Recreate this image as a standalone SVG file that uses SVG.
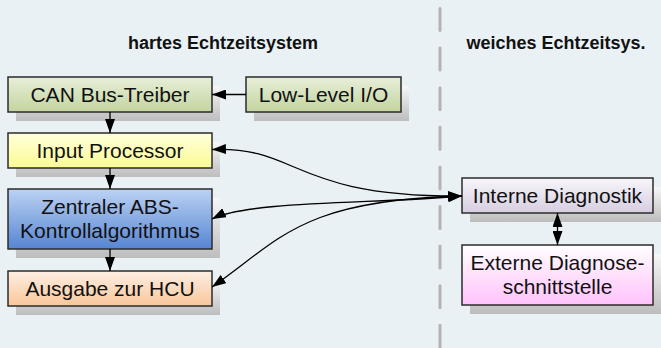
<svg xmlns="http://www.w3.org/2000/svg" width="661" height="348" viewBox="0 0 661 348">
<defs>
<linearGradient id="gSh" x1="0" y1="0" x2="0" y2="1"><stop offset="0" stop-color="#f7f7f7"/><stop offset="1" stop-color="#bdbdbd"/></linearGradient>
<linearGradient id="gGreen" x1="0" y1="0" x2="0" y2="1"><stop offset="0" stop-color="#e8efda"/><stop offset="1" stop-color="#c2d49f"/></linearGradient>
<linearGradient id="gYellow" x1="0" y1="0" x2="0" y2="1"><stop offset="0" stop-color="#ffffdc"/><stop offset="1" stop-color="#fbfb94"/></linearGradient>
<linearGradient id="gBlue" x1="0" y1="0" x2="0" y2="1"><stop offset="0" stop-color="#bcd2f3"/><stop offset="1" stop-color="#5685d3"/></linearGradient>
<linearGradient id="gPeach" x1="0" y1="0" x2="0" y2="1"><stop offset="0" stop-color="#fdefe3"/><stop offset="1" stop-color="#f9c69a"/></linearGradient>
<linearGradient id="gLav" x1="0" y1="0" x2="0" y2="1"><stop offset="0" stop-color="#f8f6fa"/><stop offset="1" stop-color="#d6cde0"/></linearGradient>
<linearGradient id="gPink" x1="0" y1="0" x2="0" y2="1"><stop offset="0" stop-color="#ffffff"/><stop offset="1" stop-color="#ffc2fb"/></linearGradient>
<marker id="arr" markerUnits="userSpaceOnUse" markerWidth="14" markerHeight="10" refX="14" refY="5" orient="auto-start-reverse" viewBox="0 0 14 10">
<path d="M0,0 L14,5 L0,10 Z" fill="#000"/>
</marker>
<style>
.box{stroke:#2b2b2b;stroke-width:1.5}
.sh{fill:url(#gSh)}
.lbl{font-family:"Liberation Sans",Arial,sans-serif;font-size:21px;fill:#111;text-anchor:middle}
.ttl{font-family:"Liberation Sans",Arial,sans-serif;font-size:18px;font-weight:bold;fill:#111;text-anchor:middle}
.con{fill:none;stroke:#000;stroke-width:1.3}
</style>
</defs>
<rect x="0" y="0" width="661" height="348" fill="#eaf1f5"/>
<line x1="440" y1="8.5" x2="440" y2="348" stroke="#b3b3b3" stroke-width="3" stroke-linecap="round" stroke-dasharray="22 17.6"/>
<text class="ttl" x="223" y="49">hartes Echtzeitsystem</text>
<text class="ttl" x="556" y="49">weiches Echtzeitsys.</text>

<g id="can">
<rect class="sh" x="16" y="86" width="204" height="35"/>
<rect class="box" x="8" y="77" width="204" height="35" fill="url(#gGreen)"/>
<text class="lbl" x="110" y="101.5">CAN Bus-Treiber</text>
</g>
<g id="lowlevel">
<rect class="sh" x="254" y="86" width="155" height="35"/>
<rect class="box" x="246" y="77" width="155" height="35" fill="url(#gGreen)"/>
<text class="lbl" x="323.5" y="101.5">Low-Level I/O</text>
</g>
<g id="input">
<rect class="sh" x="16" y="142" width="204" height="35"/>
<rect class="box" x="8" y="133" width="204" height="35" fill="url(#gYellow)"/>
<text class="lbl" x="110" y="157.5">Input Processor</text>
</g>
<g id="zentral">
<rect class="sh" x="16" y="198" width="204" height="60"/>
<rect class="box" x="8" y="189" width="204" height="60" fill="url(#gBlue)"/>
<text class="lbl" x="110" y="213.5">Zentraler ABS-</text>
<text class="lbl" x="110" y="237.5">Kontrollalgorithmus</text>
</g>
<g id="ausgabe">
<rect class="sh" x="16" y="280" width="204" height="35"/>
<rect class="box" x="8" y="271" width="204" height="35" fill="url(#gPeach)"/>
<text class="lbl" x="110" y="295.5">Ausgabe zur HCU</text>
</g>
<g id="intern">
<rect class="sh" x="470" y="187" width="191" height="35"/>
<rect class="box" x="462" y="178" width="191" height="35" fill="url(#gLav)"/>
<text class="lbl" x="557.5" y="202.5">Interne Diagnostik</text>
</g>
<g id="extern">
<rect class="sh" x="470" y="254" width="191" height="60"/>
<rect class="box" x="462" y="245" width="191" height="60" fill="url(#gPink)"/>
<text class="lbl" x="557.5" y="269.5">Externe Diagnose-</text>
<text class="lbl" x="557.5" y="293.5">schnittstelle</text>
</g>

<g id="connectors">
<line class="con" x1="110" y1="112" x2="110" y2="133" marker-end="url(#arr)"/>
<line class="con" x1="110" y1="168" x2="110" y2="189" marker-end="url(#arr)"/>
<line class="con" x1="110" y1="249" x2="110" y2="271" marker-end="url(#arr)"/>
<line class="con" x1="246" y1="94.5" x2="212" y2="94.5" marker-end="url(#arr)"/>
<line class="con" x1="557.5" y1="213" x2="557.5" y2="245" marker-start="url(#arr)" marker-end="url(#arr)"/>
<path class="con" d="M212,149.5 C300,146 290,197 462,196" marker-start="url(#arr)" marker-end="url(#arr)"/>
<path class="con" d="M212,219 C250,200 380,204 462,196" marker-start="url(#arr)" marker-end="url(#arr)"/>
<path class="con" d="M212,287 C280,240 300,200 462,196" marker-start="url(#arr)" marker-end="url(#arr)"/>
</g>
</svg>
